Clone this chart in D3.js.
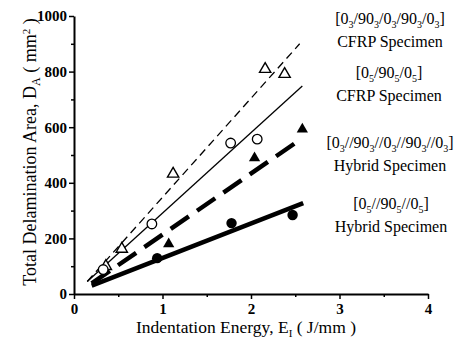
<!DOCTYPE html>
<html><head><meta charset="utf-8">
<script src="https://cdn.jsdelivr.net/npm/d3@7"></script>
<style>body{margin:0;background:#fff}svg{display:block}text{font-family:"Liberation Serif","Times New Roman",serif;fill:#000}</style>
</head><body><svg id="c" width="464" height="345"></svg>
<script>
// ---- data ----
const xTicks = [0, 1, 2, 3, 4];
const yTicks = [0, 200, 400, 600, 800, 1000];
// CFRP [0_3/90_3/0_3/90_3/0_3] (open triangles)
const cfrp1X = [0.36, 0.54, 1.12, 2.16, 2.38];
const cfrp1Y = [100, 162, 432, 809, 791];
// CFRP [0_5/90_5/0_5] (open circles)
const cfrp2X = [0.33, 0.88, 1.77, 2.07];
const cfrp2Y = [88, 252, 543, 557];
// Hybrid [0_3//90_3//0_3//90_3//0_3] (filled triangles)
const hyb1X = [1.07, 2.04, 2.58];
const hyb1Y = [180, 489, 593];
// Hybrid [0_5//90_5//0_5] (filled circles)
const hyb2X = [0.94, 1.78, 2.47];
const hyb2Y = [129, 255, 284];
// fitted lines (start/end)
const fitCfrp1X = [0.15, 2.55], fitCfrp1Y = [45, 900];
const fitCfrp2X = [0.15, 2.58], fitCfrp2Y = [45, 748];
const fitHyb1X = [0.2, 2.50], fitHyb1Y = [38, 543];
const fitHyb2X = [0.2, 2.59], fitHyb2Y = [30, 327];

const svg = d3.select("#c");
const x = d3.scaleLinear().domain([0, 4]).range([74, 428]);
const y = d3.scaleLinear().domain([0, 1000]).range([294, 16]);

// axes
svg.append("g").attr("transform", `translate(0,${y(0)})`)
  .call(d3.axisBottom(x).tickValues(xTicks).tickSize(5).tickSizeOuter(0).tickPadding(4).tickFormat(d3.format("d")));
svg.append("g").attr("transform", `translate(0,${y(0)})`)
  .call(d3.axisBottom(x).tickValues(d3.range(0.5, 4, 1)).tickSize(3).tickSizeOuter(0).tickFormat(""))
  .select(".domain").remove();
svg.append("g").attr("transform", `translate(${x(0)},0)`)
  .call(d3.axisLeft(y).tickValues(yTicks).tickSize(5).tickSizeOuter(0).tickPadding(2).tickFormat(d3.format("d")));
svg.append("g").attr("transform", `translate(${x(0)},0)`)
  .call(d3.axisLeft(y).tickValues(d3.range(100, 1000, 200)).tickSize(3).tickSizeOuter(0).tickFormat(""))
  .select(".domain").remove();
svg.selectAll(".domain").attr("stroke-width", 2);
svg.selectAll(".tick line").attr("stroke-width", 1.5);
svg.selectAll(".tick text").style("font-family", "Liberation Serif").style("font-size", "15px").style("font-weight", "bold");

// fit lines
function fit(xs, ys, w, dash) {
  svg.append("line")
    .attr("x1", x(xs[0])).attr("y1", y(ys[0]))
    .attr("x2", x(xs[1])).attr("y2", y(ys[1]))
    .attr("stroke", "#000").attr("stroke-width", w)
    .attr("stroke-dasharray", dash || null);
}
fit(fitCfrp1X, fitCfrp1Y, 1.3, "8,5");
fit(fitCfrp2X, fitCfrp2Y, 1.3);
fit(fitHyb1X, fitHyb1Y, 4.5, "22,10");
fit(fitHyb2X, fitHyb2Y, 4.5);

// markers
const tri = d3.symbol().type(d3.symbolTriangle).size(55);
svg.append("g").selectAll("path").data(cfrp1X).join("path")
  .attr("d", tri).attr("transform", (d, i) => `translate(${x(d)},${y(cfrp1Y[i])})`)
  .attr("fill", "#fff").attr("stroke", "#000").attr("stroke-width", 1.4);
svg.append("g").selectAll("circle").data(cfrp2X).join("circle")
  .attr("cx", d => x(d)).attr("cy", (d, i) => y(cfrp2Y[i])).attr("r", 4.8)
  .attr("fill", "#fff").attr("stroke", "#000").attr("stroke-width", 1.3);
svg.append("g").selectAll("path").data(hyb1X).join("path")
  .attr("d", tri).attr("transform", (d, i) => `translate(${x(d)},${y(hyb1Y[i])})`)
  .attr("fill", "#000");
svg.append("g").selectAll("circle").data(hyb2X).join("circle")
  .attr("cx", d => x(d)).attr("cy", (d, i) => y(hyb2Y[i])).attr("r", 5.2)
  .attr("fill", "#000");

// axis titles
const xt = svg.append("text").attr("x", 246).attr("y", 333).attr("text-anchor", "middle").style("font-size", "17.5px");
xt.append("tspan").text("Indentation Energy, E");
xt.append("tspan").attr("dy", 4).style("font-size", "11px").text("I");
xt.append("tspan").attr("dy", -4).text(" ( J/mm )");

const yt = svg.append("text").attr("transform", "translate(36,152) rotate(-90)").attr("text-anchor", "middle").style("font-size", "18px");
yt.append("tspan").text("Total Delamination Area, D");
yt.append("tspan").attr("dy", 4).style("font-size", "12px").text("A");
yt.append("tspan").attr("dy", -4).text(" ( mm");
yt.append("tspan").attr("dy", -6).style("font-size", "11px").text("2");
yt.append("tspan").attr("dy", 6).text(" )");

// legend labels
function stack(cx, cy, parts) {
  const t = svg.append("text").attr("x", cx).attr("y", cy).attr("text-anchor", "middle").style("font-size", "16px");
  parts.forEach(p => {
    if (p.sub) t.append("tspan").attr("dy", 4).style("font-size", "10px").text(p.sub);
    else t.append("tspan").attr("dy", p.after ? -4 : 0).text(p.t);
  });
}
function label(cx, cy, nums, sep, name) {
  const parts = [{t: "["}];
  nums.forEach((n, i) => {
    parts.push({t: (i ? sep : "") + n, after: i > 0});
    parts.push({sub: nums.length === 3 ? "5" : "3"});
  });
  parts.push({t: "]", after: true});
  stack(cx, cy, parts);
  svg.append("text").attr("x", cx).attr("y", cy + 23).attr("text-anchor", "middle").style("font-size", "16px").text(name);
}
label(390, 24, ["0", "90", "0", "90", "0"], "/", "CFRP Specimen");
label(389, 78, ["0", "90", "0"], "/", "CFRP Specimen");
label(390, 148, ["0", "90", "0", "90", "0"], "//", "Hybrid Specimen");
label(391, 209, ["0", "90", "0"], "//", "Hybrid Specimen");
</script></body></html>
